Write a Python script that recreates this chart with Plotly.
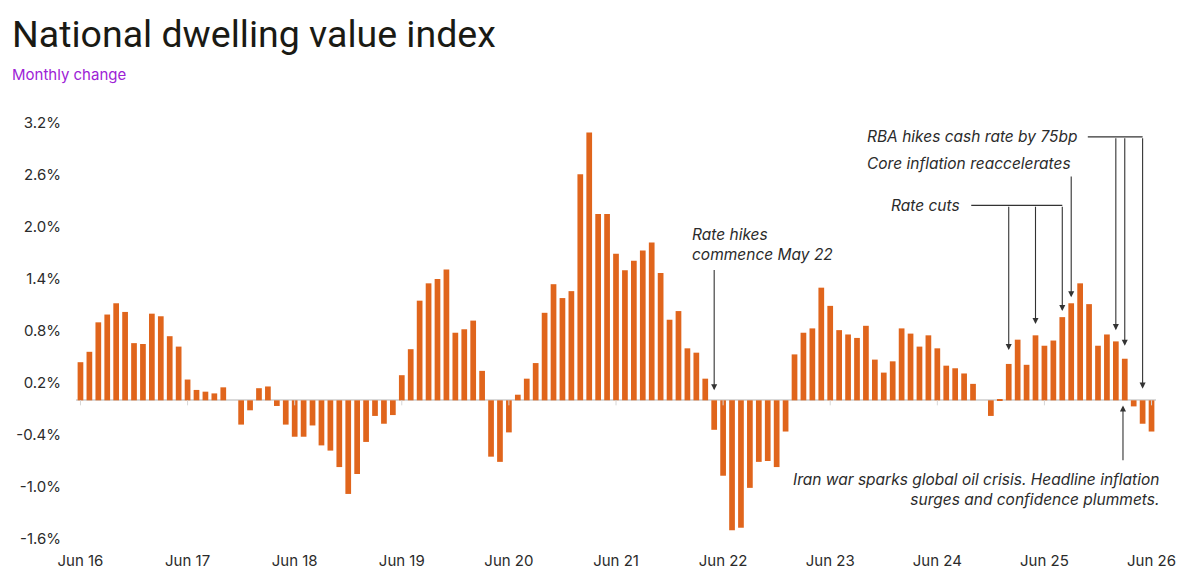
import plotly.graph_objects as go
import pandas as pd

# ---------------- data ----------------
months = [d.strftime("%b %y") for d in pd.date_range("2016-06-01", "2026-06-01", freq="MS")]

v2016 = [0.44, 0.56, 0.90, 0.99, 1.12, 1.02, 0.66]
v2017 = [0.65, 1.00, 0.97, 0.74, 0.62, 0.24, 0.12, 0.10, 0.08, 0.15, 0.00, -0.28]
v2018 = [-0.115, 0.14, 0.16, -0.065, -0.28, -0.42, -0.42, -0.29, -0.52, -0.58, -0.77, -1.08]
v2019 = [-0.85, -0.48, -0.18, -0.27, -0.17, 0.29, 0.59, 1.15, 1.35, 1.40, 1.51, 0.78]
v2020 = [0.82, 0.92, 0.34, -0.65, -0.71, -0.37, 0.065, 0.25, 0.43, 1.01, 1.34, 1.18]
v2021 = [1.26, 2.61, 3.09, 2.15, 2.15, 1.69, 1.50, 1.61, 1.73, 1.82, 1.47, 0.93]
v2022 = [1.03, 0.60, 0.55, 0.25, -0.34, -0.87, -1.50, -1.47, -1.01, -0.71, -0.70, -0.77]
v2023 = [-0.36, 0.53, 0.78, 0.83, 1.30, 1.09, 0.81, 0.76, 0.72, 0.86, 0.47, 0.32]
v2024 = [0.45, 0.83, 0.77, 0.62, 0.75, 0.60, 0.40, 0.37, 0.31, 0.19, 0.00, -0.18]
v2025 = [0.01, 0.42, 0.70, 0.41, 0.75, 0.63, 0.69, 0.96, 1.12, 1.35, 1.11, 0.63]
v2026 = [0.76, 0.68, 0.48, -0.07, -0.27, -0.36]
values = v2016 + v2017 + v2018 + v2019 + v2020 + v2021 + v2022 + v2023 + v2024 + v2025 + v2026

x_ticks = [m for m in months if m.startswith("Jun")]
y_ticks = [-1.6, -1.0, -0.4, 0.2, 0.8, 1.4, 2.0, 2.6, 3.2]
y_ticktext = [f"{v:.1f}%" for v in y_ticks]

# annotation events: (month, arrow-tip value)
rate_hike_start = ("May 22", 0.115)
rate_cuts = [("Feb 25", 0.58), ("May 25", 0.88), ("Aug 25", 1.03)]
core_infl = ("Sep 25", 1.19)
rba_hikes = [("Feb 26", 0.81), ("Mar 26", 0.63), ("May 26", 0.135)]
iran_war = ("Mar 26", -0.06)

# ---------------- layout constants ----------------
W, H = 1195, 588
L, R, T, B = 76, 39, 123, 49
BAR = "#E0651C"
TXT = "#2b2b2b"
ARR = "#333333"
FONT = "Inter, 'Open Sans', Arial, sans-serif"
TITLE_FONT = "Roboto, Inter, Arial, sans-serif"

idx = {m: i for i, m in enumerate(months)}

fig = go.Figure()
fig.add_trace(go.Bar(
    x=list(range(len(months))), y=values,
    marker=dict(color=BAR, line=dict(width=0)),
    hovertext=months, hoverinfo="text+y",
))

ann = []
shapes = []

# small tick marks on zero line
for m in x_ticks:
    shapes.append(dict(type="line", xref="x", yref="y", x0=idx[m], x1=idx[m],
                       ysizemode="pixel", yanchor=0, y0=0, y1=-5,
                       line=dict(color="#d6d6d6", width=1)))

def arrow(xi, y_from, y_to):
    ann.append(dict(x=xi, y=y_to, ax=xi, ay=y_from, xref="x", yref="y",
                    axref="x", ayref="y", text="", showarrow=True,
                    arrowhead=2, arrowsize=1.1, arrowwidth=1.1, arrowcolor=ARR))

def label(xi, y, text, xanchor, align="left", xshift=0):
    ann.append(dict(x=xi, y=y, xref="x", yref="y", text=text, showarrow=False,
                    xanchor=xanchor, yanchor="middle", align=align, xshift=xshift,
                    font=dict(family=FONT, size=15.5, color=TXT)))

# Rate hikes commence May 22
xi = idx[rate_hike_start[0]]
label(68.3, 1.80, "<i>Rate hikes<br>commence May 22</i>", "left")
arrow(xi, 1.52, rate_hike_start[1])

# Rate cuts
y_rc = 2.25
x_start = 99.8
label(x_start, y_rc, "<i>Rate cuts</i>", "right", xshift=-9)
shapes.append(dict(type="line", xref="x", yref="y", x0=x_start, x1=idx[rate_cuts[-1][0]],
                   y0=y_rc, y1=y_rc, line=dict(color=ARR, width=1.1)))
for m, tip in rate_cuts:
    arrow(idx[m], y_rc, tip)

# Core inflation reaccelerates
xi = idx[core_infl[0]]
label(xi, 2.73, "<i>Core inflation reaccelerates</i>", "right", xshift=2)
arrow(xi, 2.60, core_infl[1])

# RBA hikes
y_rba = 3.04
x_start = 112.86
label(x_start, y_rba, "<i>RBA hikes cash rate by 75bp</i>", "right", xshift=-9)
shapes.append(dict(type="line", xref="x", yref="y", x0=x_start, x1=idx[rba_hikes[-1][0]],
                   y0=y_rba, y1=y_rba, line=dict(color=ARR, width=1.1)))
for m, tip in rba_hikes:
    arrow(idx[m], y_rba, tip)

# Iran war (anchored on last month, shifted right)
label(len(months) - 1, -1.025,
      "<i>Iran war sparks global oil crisis. Headline inflation<br>surges and confidence plummets.</i>",
      "right", align="right", xshift=9)
arrow(idx[iran_war[0]] - 0.2, -0.71, iran_war[1])

# title & subtitle
pw = W - L - R
ph = H - T - B
ann.append(dict(xref="paper", yref="paper", x=(10 - L) / pw, y=1 + (T - 34) / ph,
                xanchor="left", yanchor="middle", showarrow=False,
                text="National dwelling value index",
                font=dict(family=TITLE_FONT, size=37.5, color="#1a1a14")))
ann.append(dict(xref="paper", yref="paper", x=(10 - L) / pw, y=1 + (T - 75) / ph,
                xanchor="left", yanchor="middle", showarrow=False,
                text="Monthly change",
                font=dict(family=FONT, size=15, color="#9D22D6")))

fig.update_layout(
    width=W, height=H,
    margin=dict(l=L, r=R, t=T, b=B, pad=0),
    plot_bgcolor="white", paper_bgcolor="white",
    showlegend=False, bargap=0.36,
    font=dict(family=FONT, size=15, color=TXT),
    annotations=ann, shapes=shapes,
    xaxis=dict(range=[-0.5, len(months) - 0.5], tickmode="array",
               tickvals=[idx[m] for m in x_ticks], ticktext=x_ticks,
               showgrid=False, zeroline=False, showline=False,
               ticks="outside", ticklen=8, tickcolor="rgba(0,0,0,0)",
               tickfont=dict(size=15, color=TXT)),
    yaxis=dict(range=[-1.6, 3.2], tickmode="array", tickvals=y_ticks, ticktext=y_ticktext,
               showgrid=False, zeroline=True, zerolinecolor="#d9d9d9", zerolinewidth=1.5,
               showline=False, ticks="outside", ticklen=11, tickcolor="rgba(0,0,0,0)",
               tickfont=dict(size=15, color=TXT)),
)

fig.write_html("out.html")
